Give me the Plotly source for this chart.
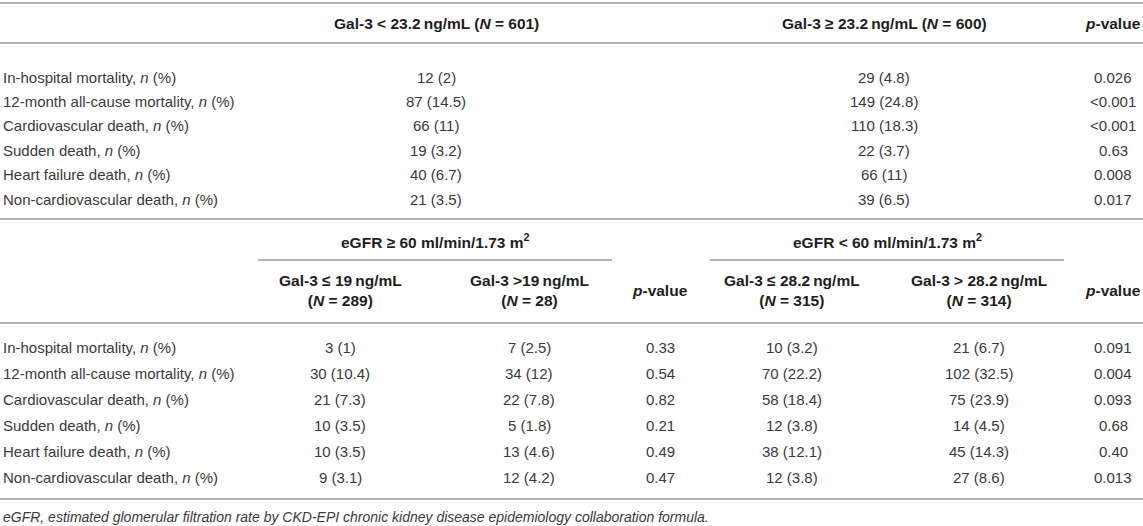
import html
import plotly.graph_objects as go

# ---------------- data ----------------
outcomes = ["In-hospital mortality", "12-month all-cause mortality", "Cardiovascular death",
            "Sudden death", "Heart failure death", "Non-cardiovascular death"]

overall_headers = ["Gal-3 &lt; 23.2\u2009ng/mL (<i>N</i> = 601)",
                   "Gal-3 \u2265 23.2\u2009ng/mL (<i>N</i> = 600)",
                   "<i>p</i>-value"]
overall_low = ["12 (2)", "87 (14.5)", "66 (11)", "19 (3.2)", "40 (6.7)", "21 (3.5)"]
overall_high = ["29 (4.8)", "149 (24.8)", "110 (18.3)", "22 (3.7)", "66 (11)", "39 (6.5)"]
overall_p = ["0.026", "<0.001", "<0.001", "0.63", "0.008", "0.017"]

group_headers = ["eGFR \u2265 60 ml/min/1.73 m<sup>2</sup>", "eGFR &lt; 60 ml/min/1.73 m<sup>2</sup>"]
sub_headers = ["Gal-3 \u2264 19\u2009ng/mL<br>(<i>N</i> = 289)",
               "Gal-3 &gt;19\u2009ng/mL<br>(<i>N</i> = 28)",
               "<i>p</i>-value",
               "Gal-3 \u2264 28.2\u2009ng/mL<br>(<i>N</i> = 315)",
               "Gal-3 &gt; 28.2\u2009ng/mL<br>(<i>N</i> = 314)",
               "<i>p</i>-value"]
preserved_low = ["3 (1)", "30 (10.4)", "21 (7.3)", "10 (3.5)", "10 (3.5)", "9 (3.1)"]
preserved_high = ["7 (2.5)", "34 (12)", "22 (7.8)", "5 (1.8)", "13 (4.6)", "12 (4.2)"]
preserved_p = ["0.33", "0.54", "0.82", "0.21", "0.49", "0.47"]
reduced_low = ["10 (3.2)", "70 (22.2)", "58 (18.4)", "12 (3.8)", "38 (12.1)", "12 (3.8)"]
reduced_high = ["21 (6.7)", "102 (32.5)", "75 (23.9)", "14 (4.5)", "45 (14.3)", "27 (8.6)"]
reduced_p = ["0.091", "0.004", "0.093", "0.68", "0.40", "0.013"]

footnote = ("eGFR, estimated glomerular filtration rate by CKD-EPI chronic kidney disease "
            "epidemiology collaboration formula.")

# ---------------- layout constants (pixel grid) ----------------
W, H = 1143, 526
TEXT = "#3a3a3a"
HEAD = "#1e1e1e"
RULE = "#b5b5b5"
FONT = "Liberation Sans"
FS = 15
FS_HEAD = 15.5

top_cols = [436, 884, 1113]
bot_cols = [340, 529, 660, 792, 979, 1113]
group_cols = [435, 887]
group_spans = [(258, 612), (710, 1064)]

y_top_rule = 3
y_head1 = 23
y_rule1 = 43
rows1_y = [77, 101, 125, 150, 174, 199]
y_rule2 = 219
y_group = 241
y_group_rule = 260
y_sub = 290
y_rule3 = 323
rows2_y = [347, 373, 399, 425, 451, 477]
y_rule4 = 499
y_foot = 517

annotations = []
shapes = []


def txt(x, y, s, anchor="center", bold=False, italic=False, color=TEXT, size=FS):
    if bold:
        s = "<b>" + s + "</b>"
    if italic:
        s = "<i>" + s + "</i>"
    annotations.append(dict(x=x, y=y, xref="x", yref="y", text=s, showarrow=False,
                            xanchor=anchor, yanchor="middle", align="center",
                            font=dict(family=FONT, size=size, color=color)))


def rule(x0, x1, y):
    shapes.append(dict(type="line", xref="x", yref="y", x0=x0, x1=x1, y0=y, y1=y,
                       line=dict(color=RULE, width=2)))


# rules
for y in (y_top_rule, y_rule1, y_rule2, y_rule3, y_rule4):
    rule(0, W, y)
for x0, x1 in group_spans:
    rule(x0, x1, y_group_rule)

# block 1
for x, h in zip(top_cols, overall_headers):
    txt(x, y_head1, h, bold=True, size=FS_HEAD, color=HEAD)
for i, y in enumerate(rows1_y):
    txt(1, y, outcomes[i] + ", <i>n</i> (%)", anchor="left")
    for x, col in zip(top_cols, (overall_low, overall_high, overall_p)):
        txt(x, y, html.escape(col[i]))

# block 2
for x, h in zip(group_cols, group_headers):
    txt(x, y_group, h, bold=True, size=FS_HEAD, color=HEAD)
for x, h in zip(bot_cols, sub_headers):
    txt(x, y_sub, h, bold=True, size=FS_HEAD, color=HEAD)
cols2 = (preserved_low, preserved_high, preserved_p, reduced_low, reduced_high, reduced_p)
for i, y in enumerate(rows2_y):
    txt(1, y, outcomes[i] + ", <i>n</i> (%)", anchor="left")
    for x, col in zip(bot_cols, cols2):
        txt(x, y, html.escape(col[i]))

txt(1, y_foot, footnote, anchor="left", italic=True, color="#3a3a3a", size=14)

fig = go.Figure()
fig.add_trace(go.Scatter(x=[0, W], y=[0, H], mode="lines", line=dict(width=0),
                         hoverinfo="skip", showlegend=False))
fig.update_layout(
    width=W, height=H, margin=dict(l=0, r=0, t=0, b=0),
    paper_bgcolor="white", plot_bgcolor="white",
    xaxis=dict(range=[0, W], visible=False, fixedrange=True),
    yaxis=dict(range=[H, 0], visible=False, fixedrange=True),
    annotations=annotations, shapes=shapes, showlegend=False,
)
fig.write_html("out.html", config={"displayModeBar": False},
               post_script="document.body.style.margin='0';document.body.style.overflow='hidden';")
